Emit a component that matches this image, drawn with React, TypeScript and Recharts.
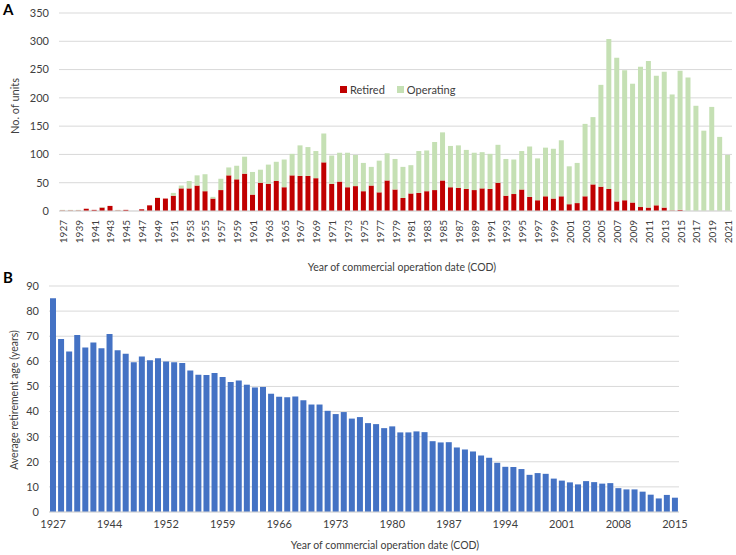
import { BarChart, Bar, XAxis, YAxis, CartesianGrid, Legend } from "recharts";

// panel A: units by COD year
const yearsA = [
  "1927", "1938", "1939", "1940", "1941", "1942", "1943", "1944", "1945", "1946",
  "1947", "1948", "1949", "1950", "1951", "1952", "1953", "1954", "1955", "1956",
  "1957", "1958", "1959", "1960", "1961", "1962", "1963", "1964", "1965", "1966",
  "1967", "1968", "1969", "1970", "1971", "1972", "1973", "1974", "1975", "1976",
  "1977", "1978", "1979", "1980", "1981", "1982", "1983", "1984", "1985", "1986",
  "1987", "1988", "1989", "1990", "1991", "1992", "1993", "1994", "1995", "1996",
  "1997", "1998", "1999", "2000", "2001", "2002", "2003", "2004", "2005", "2006",
  "2007", "2008", "2009", "2010", "2011", "2012", "2013", "2014", "2015", "2016",
  "2017", "2018", "2019", "2020", "2021",
];
const retired = [
  1, 1, 1, 4, 2, 6, 9, 1, 2, 0,
  3, 10, 23, 22, 27, 40, 40, 45, 35, 22,
  37, 63, 56, 66, 29, 50, 48, 53, 42, 63,
  62, 62, 58, 86, 48, 52, 42, 44, 35, 45,
  33, 54, 38, 23, 31, 32, 35, 37, 54, 42,
  41, 39, 37, 40, 39, 50, 27, 30, 38, 25,
  19, 26, 22, 26, 12, 14, 26, 47, 43, 39,
  17, 19, 15, 7, 6, 10, 6, 1, 2, 0,
  0, 0, 0, 0, 0,
];
const operating = [
  1, 1, 1, 0, 0, 1, 0, 1, 0, 0,
  0, 0, 1, 0, 5, 5, 13, 18, 30, 3,
  20, 14, 24, 30, 40, 23, 34, 34, 49, 38,
  54, 51, 48, 51, 50, 51, 61, 55, 50, 33,
  56, 48, 54, 55, 50, 74, 72, 85, 85, 73,
  75, 69, 66, 64, 62, 67, 65, 61, 68, 89,
  74, 86, 88, 99, 67, 71, 128, 119, 180, 265,
  254, 230, 210, 248, 259, 229, 240, 205, 246, 236,
  186, 142, 184, 131, 99,
];
const unitTicks = [0, 50, 100, 150, 200, 250, 300, 350];
const seriesA = [
  { key: "Retired", color: "#c00000" },
  { key: "Operating", color: "#c5e0b4" },
];

// panel B: average retirement age
const yearsB = [
  "1927", "1938", "1939", "1940", "1941", "1942", "1943", "1944", "1945", "1947",
  "1948", "1949", "1950", "1951", "1952", "1953", "1954", "1955", "1956", "1957",
  "1958", "1959", "1960", "1961", "1962", "1963", "1964", "1965", "1966", "1967",
  "1968", "1969", "1970", "1971", "1972", "1973", "1974", "1975", "1976", "1977",
  "1978", "1979", "1980", "1981", "1982", "1983", "1984", "1985", "1986", "1987",
  "1988", "1989", "1990", "1991", "1992", "1993", "1994", "1995", "1996", "1997",
  "1998", "1999", "2000", "2001", "2002", "2003", "2004", "2005", "2006", "2007",
  "2008", "2009", "2010", "2011", "2012", "2013", "2014", "2015",
];
const avgAge = [
  85.1, 68.9, 63.9, 70.5, 65.5, 67.5, 65.2, 70.9, 64.4, 63.0,
  59.6, 61.9, 60.4, 61.2, 59.9, 59.6, 59.3, 56.3, 54.7, 54.6,
  55.4, 53.8, 51.8, 52.4, 50.7, 49.6, 49.8, 47.1, 45.9, 45.7,
  46.0, 44.5, 42.8, 42.8, 40.3, 39.0, 39.8, 37.2, 37.8, 35.4,
  35.0, 33.4, 34.1, 31.7, 31.7, 32.1, 31.8, 28.2, 27.7, 27.8,
  25.7, 24.9, 24.1, 22.5, 21.6, 19.6, 18.0, 17.9, 17.1, 14.8,
  15.5, 15.2, 13.3, 12.5, 11.8, 11.0, 12.3, 11.9, 11.3, 11.5,
  9.5, 9.0, 9.0, 8.1, 6.9, 5.4, 6.8, 5.7,
];
const ageTicks = [0, 10, 20, 30, 40, 50, 60, 70, 80, 90];

const dataA = yearsA.map((y, i) => ({ year: y, Retired: retired[i], Operating: operating[i] }));
const dataB = yearsB.map((y, i) => ({ year: y, age: avgAge[i] }));

const FONT = "Lato, 'Open Sans', sans-serif";
const TXT = "#404040";
const GRID = "#d9d9d9";

function RotatedTick(props: any) {
  const { x, y, payload } = props;
  return (
    <text
      x={x}
      y={y}
      transform={`rotate(-90, ${x}, ${y})`}
      textAnchor="end"
      dominantBaseline="central"
      fontSize={10}
      fill={TXT}
      fontFamily={FONT}
    >
      {payload.value}
    </text>
  );
}

function LegendA() {
  return (
    <div style={{ display: "flex", alignItems: "center", fontSize: 11, fontFamily: FONT, color: TXT }}>
      {seriesA.map((s) => (
        <span key={s.key} style={{ display: "flex", alignItems: "center", marginRight: 12 }}>
          <span style={{ width: 7, height: 7, background: s.color, marginRight: 3 }} />
          {s.key}
        </span>
      ))}
    </div>
  );
}

export default function App() {
  return (
    <div style={{ position: "absolute", left: 0, top: 0, width: 736, height: 555, background: "#fff", fontFamily: FONT, color: TXT }}>
      <div style={{ position: "absolute", left: 3, top: 0, fontSize: 15, fontWeight: 700, color: "#000" }}>A</div>
      <div
        style={{
          position: "absolute", left: 14, top: 106, fontSize: 11,
          transform: "translate(-50%, -50%) rotate(-90deg)", whiteSpace: "nowrap",
        }}
      >
        No. of units
      </div>
      <div style={{ position: "absolute", left: 0, top: 0 }}>
        <BarChart width={736} height={260} data={dataA} margin={{ top: 13, right: 4, bottom: 0, left: 0 }} barSize={5}>
          <CartesianGrid vertical={false} stroke={GRID} />
          <XAxis
            dataKey="year"
            interval={1}
            height={36}
            tickLine={false}
            tickSize={0}
            tickMargin={9}
            stroke={GRID}
            tick={<RotatedTick />}
          />
          <YAxis
            width={59}
            domain={[0, 350]}
            ticks={unitTicks}
            axisLine={false}
            tickLine={false}
            tickMargin={4}
            tick={{ fontSize: 11, fill: TXT, fontFamily: FONT }}
          />
          <Legend content={<LegendA />} wrapperStyle={{ top: 83, left: 340, width: "auto" }} />
          {seriesA.map((s) => (
            <Bar key={s.key} dataKey={s.key} stackId="a" fill={s.color} isAnimationActive={false} />
          ))}
        </BarChart>
      </div>
      <div style={{ position: "absolute", left: 402, top: 267, fontSize: 10.5, transform: "translate(-50%, -50%)", whiteSpace: "nowrap" }}>
        Year of commercial operation date (COD)
      </div>

      <div style={{ position: "absolute", left: 3, top: 268, fontSize: 15, fontWeight: 700, color: "#000" }}>B</div>
      <div
        style={{
          position: "absolute", left: 14, top: 400, fontSize: 10.5,
          transform: "translate(-50%, -50%) rotate(-90deg)", whiteSpace: "nowrap",
        }}
      >
        Average retirement age (years)
      </div>
      <div style={{ position: "absolute", left: 0, top: 270 }}>
        <BarChart width={736} height={270} data={dataB} margin={{ top: 16, right: 57, bottom: 0, left: 0 }} barSize={6}>
          <CartesianGrid vertical={false} stroke={GRID} />
          <XAxis
            dataKey="year"
            interval={6}
            height={28}
            tickLine={false}
            stroke={GRID}
            tick={{ fontSize: 11, fill: TXT, fontFamily: FONT }}
          />
          <YAxis
            width={49}
            domain={[0, 90]}
            ticks={ageTicks}
            axisLine={false}
            tickLine={false}
            tickMargin={4}
            tick={{ fontSize: 11, fill: TXT, fontFamily: FONT }}
          />
          <Bar dataKey="age" fill="#4472c4" isAnimationActive={false} />
        </BarChart>
      </div>
      <div style={{ position: "absolute", left: 385, top: 545, fontSize: 10.5, transform: "translate(-50%, -50%)", whiteSpace: "nowrap" }}>
        Year of commercial operation date (COD)
      </div>
    </div>
  );
}
